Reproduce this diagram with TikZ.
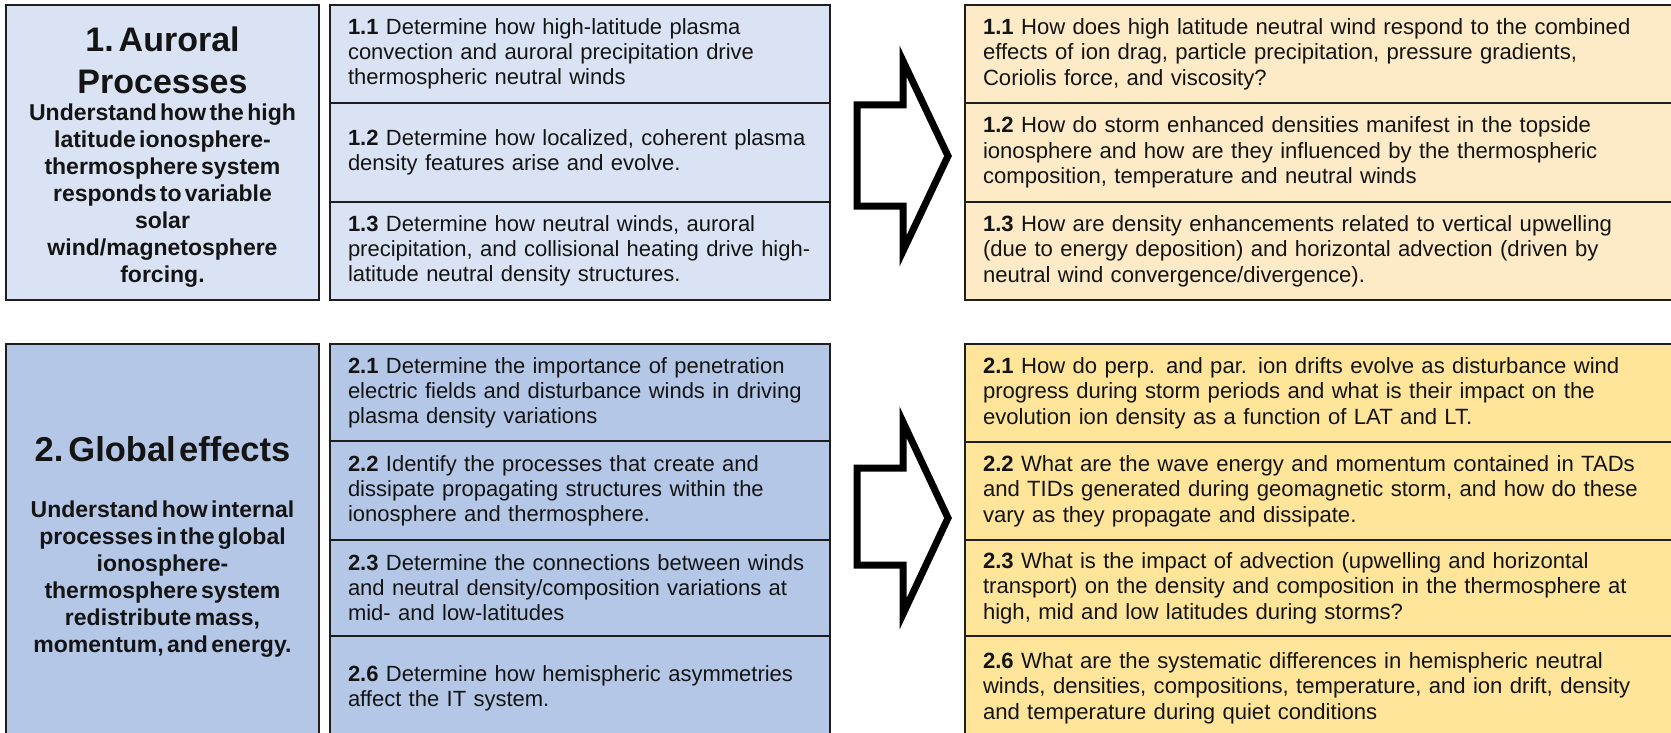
\documentclass[tikz,border=0pt]{standalone}
\usepackage{fontspec}
\setmainfont{Liberation Sans}
\definecolor{lblueA}{HTML}{DAE3F3}
\definecolor{lblueB}{HTML}{B4C7E7}
\definecolor{lyelA}{HTML}{FDEBC8}
\definecolor{lyelB}{HTML}{FEE599}
\definecolor{edgecol}{HTML}{1E1E1E}
\definecolor{txtcol}{HTML}{141414}
\begin{document}
\begin{tikzpicture}[x=1pt,y=-1pt,
  cell/.style={draw=edgecol, line width=2pt, anchor=north west, outer sep=0pt,
    inner xsep=18pt, inner ysep=0pt, align=left, text=txtcol,
    font=\fontsize{22}{25}\selectfont},
  midcell/.style={cell, text width=464pt},
  rightcell/.style={cell, text width=690pt, font=\fontsize{22.1}{25.5}\selectfont},
  bigbox/.style={draw=edgecol, line width=2pt, anchor=north west, outer sep=0pt,
    inner sep=0pt, minimum width=313pt},
  bigtext/.style={text width=305pt, align=center, inner sep=0pt, text=txtcol, font=\bfseries},
  bigarrow/.style={draw=black, line width=7pt, fill=white, line join=miter}
]
\useasboundingbox (0,0) rectangle (1671,733);
\fill[white] (0,0) rectangle (1671,733);

% ---------- row 1 ----------
\node[bigbox, fill=lblueA, minimum height=295pt] (aurbox) at (6,5) {};
\node[bigtext] (aurtxt) at (162.5,157)
 {{\fontsize{34}{42}\selectfont 1. Auroral\\Processes\par}%
  {\fontsize{23}{27}\selectfont Understand how the high\\latitude ionosphere-\\thermosphere system\\responds to variable\\solar\\wind/magnetosphere\\forcing.\par}};

\node[midcell, fill=lblueA, minimum height=98pt] (m11) at (330,5)
 {\textbf{1.1} Determine how high-latitude plasma\\convection and auroral precipitation drive\\thermospheric neutral winds};
\node[midcell, fill=lblueA, minimum height=99pt] (m12) at (330,103)
 {\textbf{1.2} Determine how localized, coherent plasma\\density features arise and evolve.};
\node[midcell, fill=lblueA, minimum height=98pt] (m13) at (330,202)
 {\textbf{1.3} Determine how neutral winds, auroral\\precipitation, and collisional heating drive high-\\latitude neutral density structures.};

\draw[bigarrow] (857,105) -- (903,105) -- (903,61) -- (948,156) -- (903,251) -- (903,206) -- (857,206) -- cycle;

\node[rightcell, fill=lyelA, minimum height=98pt] (r11) at (965,5)
 {\textbf{1.1} How does high latitude neutral wind respond to the combined\\effects of ion drag, particle precipitation, pressure gradients,\\Coriolis force, and viscosity?};
\node[rightcell, fill=lyelA, minimum height=99pt] (r12) at (965,103)
 {\textbf{1.2} How do storm enhanced densities manifest in the topside\\ionosphere and how are they influenced by the thermospheric\\composition, temperature and neutral winds};
\node[rightcell, fill=lyelA, minimum height=98pt] (r13) at (965,202)
 {\textbf{1.3} How are density enhancements related to vertical upwelling\\(due to energy deposition) and horizontal advection (driven by\\neutral wind convergence/divergence).};

% ---------- row 2 ----------
\node[bigbox, fill=lblueB, minimum height=396pt] (globox) at (6,344) {};
\node[bigtext] (glotxt) at (162.5,547)
 {{\fontsize{34.5}{42}\selectfont 2. Global effects\par}\vspace{29pt}%
  {\fontsize{23}{27}\selectfont Understand how internal\\processes in the global\\ionosphere-\\thermosphere system\\redistribute mass,\\momentum, and energy.\par}};

\node[midcell, fill=lblueB, minimum height=97pt] (m21) at (330,344)
 {\textbf{2.1} Determine the importance of penetration\\electric fields and disturbance winds in driving\\plasma density variations};
\node[midcell, fill=lblueB, minimum height=99pt] (m22) at (330,441)
 {\textbf{2.2} Identify the processes that create and\\dissipate propagating structures within the\\ionosphere and thermosphere.};
\node[midcell, fill=lblueB, minimum height=96pt] (m23) at (330,540)
 {\textbf{2.3} Determine the connections between winds\\and neutral density/composition variations at\\mid- and low-latitudes};
\node[midcell, fill=lblueB, minimum height=104pt] (m26) at (330,636)
 {\textbf{2.6} Determine how hemispheric asymmetries\\affect the IT system.};

\draw[bigarrow] (857,468) -- (903,468) -- (903,422) -- (948,518) -- (903,614) -- (903,565) -- (857,565) -- cycle;

\node[rightcell, fill=lyelB, minimum height=98pt] (r21) at (965,344)
 {\textbf{2.1} How do perp. and par. ion drifts evolve as disturbance wind\\progress during storm periods and what is their impact on the\\evolution ion density as a function of LAT and LT.};
\node[rightcell, fill=lyelB, minimum height=98pt] (r22) at (965,442)
 {\textbf{2.2} What are the wave energy and momentum contained in TADs\\and TIDs generated during geomagnetic storm, and how do these\\vary as they propagate and dissipate.};
\node[rightcell, fill=lyelB, minimum height=96pt] (r23) at (965,540)
 {\textbf{2.3} What is the impact of advection (upwelling and horizontal\\transport) on the density and composition in the thermosphere at\\high, mid and low latitudes during storms?};
\node[rightcell, fill=lyelB, minimum height=104pt] (r26) at (965,636)
 {\textbf{2.6} What are the systematic differences in hemispheric neutral\\winds, densities, compositions, temperature, and ion drift, density\\and temperature during quiet conditions};
\end{tikzpicture}
\end{document}
